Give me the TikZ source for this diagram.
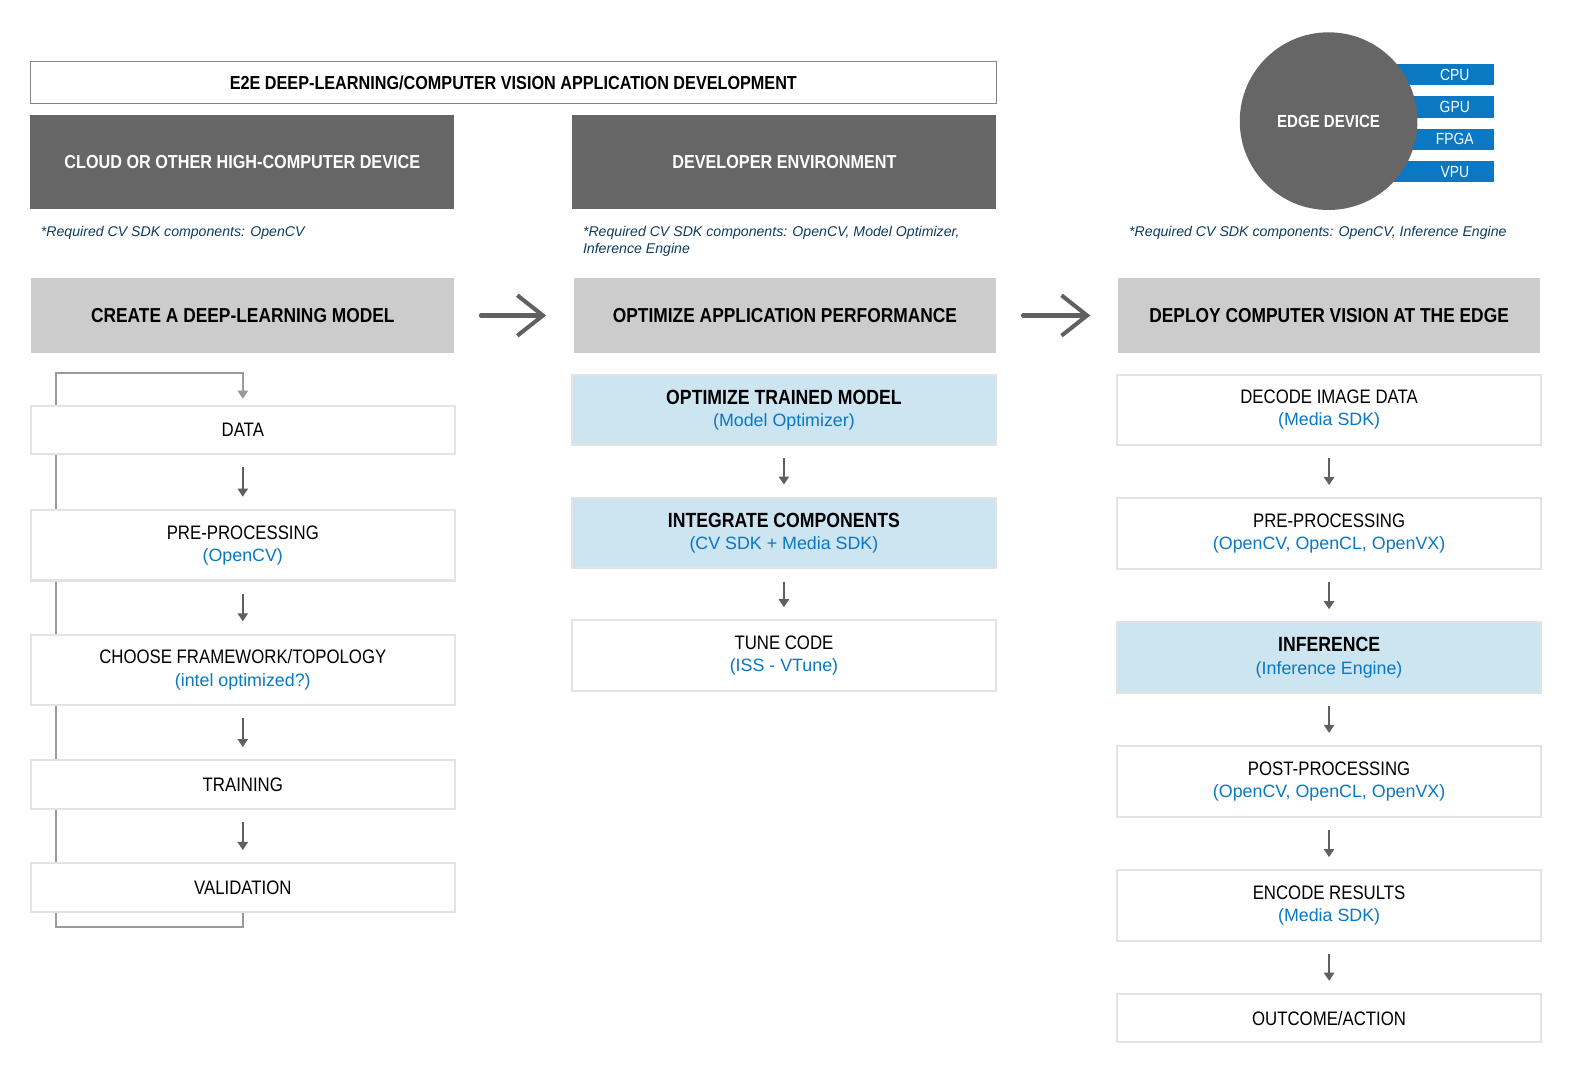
\documentclass[tikz,border=0pt]{standalone}
\usepackage{fontspec}
\setmainfont{Liberation Sans}
\newfontfamily\condfont{Liberation Sans}[FakeStretch=0.86]
\usetikzlibrary{arrows.meta}

\definecolor{darkbox}{HTML}{666666}
\definecolor{hdrgray}{HTML}{CCCCCC}
\definecolor{boxline}{HTML}{E3E3E3}
\definecolor{paleblue}{HTML}{CDE4F1}
\definecolor{subblue}{HTML}{0A78C2}
\definecolor{barblue}{HTML}{0A78C2}
\definecolor{notecol}{HTML}{0D3C61}
\definecolor{arrowgray}{HTML}{606060}
\definecolor{loopgray}{HTML}{9A9A9A}

\tikzset{every picture/.style={line width=0.75pt}}
\tikzset{
  stepbox/.style={draw=boxline, line width=1.5pt, fill=white, minimum width=315pt, minimum height=52.5pt, align=center, inner sep=0pt, font=\condfont\fontsize{14.5}{16.5}\selectfont},
  stepone/.style={stepbox, minimum height=36pt},
  stepblue/.style={stepbox, fill=paleblue},
  hdrbox/.style={fill=hdrgray, minimum width=314pt, minimum height=55.5pt, inner sep=0pt, font=\condfont\bfseries\fontsize{15}{17}\selectfont},
  darkhdr/.style={fill=darkbox, text=white, minimum width=315pt, minimum height=70pt, inner sep=0pt, font=\condfont\bfseries\fontsize{14}{16}\selectfont},
  notetext/.style={anchor=base west, inner sep=0pt, text=notecol, font=\itshape\fontsize{10.5}{12.75}\selectfont, align=left},
  flowarrow/.style={draw=arrowgray, line width=1.5pt, -{Triangle[width=7.5pt,length=6pt]}, shorten <=9pt, shorten >=9pt},
  bigarrow/.style={draw=arrowgray, line width=3pt, line cap=round, -{Straight Barb[length=19pt,width=30pt,line width=3pt]}, shorten <=19.5pt, shorten >=20pt},
  looparrow/.style={draw=loopgray, line width=1.5pt, -{Triangle[width=7.5pt,length=6pt]}},
  bartext/.style={text=white, inner sep=0pt, font=\condfont\fontsize{12}{14}\selectfont}
}
\newcommand{\subtxt}[1]{{\color{subblue}\normalfont\fontsize{13.25}{16.5}\selectfont #1}}
\newcommand{\boldtxt}[1]{{\bfseries\fontsize{15.25}{16.5}\selectfont #1}}

\begin{document}
\begin{tikzpicture}[x=0.75pt,y=0.75pt,yscale=-1,xscale=1]
\useasboundingbox (0,0) rectangle (1568,1064);

% title bar
\node[draw=darkbox!80, line width=0.75pt, minimum width=717.75pt, minimum height=31.5pt, inner sep=0pt, font=\condfont\bfseries\fontsize{14}{16}\selectfont] (title) at (508.5,82) {E2E DEEP-LEARNING/COMPUTER VISION APPLICATION DEVELOPMENT};

% environments
\node[darkhdr] (cloud) at (240,160.5) {CLOUD OR OTHER HIGH-COMPUTER DEVICE};
\node[darkhdr] (devenv) at (777,160.5) {DEVELOPER ENVIRONMENT};

% edge device with its targets
\foreach \lbl [count=\i] in {CPU,GPU,FPGA,VPU}
  \fill[barblue] (1370,{32*\i+31.5}) rectangle (1480,{32*\i+52.5}) node[bartext] (bar-\i) at (1441,{32*\i+42}) {\lbl};
\node[circle, fill=darkbox, text=white, minimum size=132pt, inner sep=0pt, font=\condfont\bfseries\fontsize{13}{15}\selectfont] (edge) at (1316,120) {EDGE DEVICE};

% notes
\node[notetext] (note1) at (40,234) {*Required CV SDK components: OpenCV};
\node[notetext] (note2) at (577,251) {*Required CV SDK components: OpenCV, Model Optimizer,\\Inference Engine};
\node[notetext] (note3) at (1118,234) {*Required CV SDK components: OpenCV, Inference Engine};

% stage headers
\node[hdrbox] (create) at (240.5,312.5) {CREATE A DEEP-LEARNING MODEL};
\node[hdrbox] (optimize) at (777.5,312.5) {OPTIMIZE APPLICATION PERFORMANCE};
\node[hdrbox] (deploy) at (1316.5,312.5) {DEPLOY COMPUTER VISION AT THE EDGE};
\draw[bigarrow] (create) -- (optimize);
\draw[bigarrow] (optimize) -- (deploy);

% training loop
\coordinate (loopcorner) at (55,369);
\draw[looparrow] (240.5,903) -- ++(0,15) -| (loopcorner) -| (240.5,395);

% model column
\node[stepone] (data) at (240.5,426) {DATA};
\node[stepbox] (prep) at (240.5,540) {PRE-PROCESSING\\\subtxt{(OpenCV)}};
\node[stepbox] (frame) at (240.5,663.5) {CHOOSE FRAMEWORK/TOPOLOGY\\\subtxt{(intel optimized?)}};
\node[stepone] (train) at (240.5,777) {TRAINING};
\node[stepone] (valid) at (240.5,879) {VALIDATION};
\draw[flowarrow] (data) -- (prep);
\draw[flowarrow] (prep) -- (frame);
\draw[flowarrow] (frame) -- (train);
\draw[flowarrow] (train) -- (valid);

% optimize column
\node[stepblue] (trained) at (776.5,406) {\boldtxt{OPTIMIZE TRAINED MODEL}\\\subtxt{(Model Optimizer)}};
\node[stepblue] (integ) at (776.5,528) {\boldtxt{INTEGRATE COMPONENTS}\\\subtxt{(CV SDK + Media SDK)}};
\node[stepbox] (tune) at (776.5,649.5) {TUNE CODE\\\subtxt{(ISS - VTune)}};
\draw[flowarrow] (trained) -- (integ);
\draw[flowarrow] (integ) -- (tune);

% deploy column
\node[stepbox] (decode) at (1316.5,406) {DECODE IMAGE DATA\\\subtxt{(Media SDK)}};
\node[stepbox] (prep2) at (1316.5,528.5) {PRE-PROCESSING\\\subtxt{(OpenCV, OpenCL, OpenVX)}};
\node[stepblue] (infer) at (1316.5,651.5) {\boldtxt{INFERENCE}\\\subtxt{(Inference Engine)}};
\node[stepbox] (post) at (1316.5,774) {POST-PROCESSING\\\subtxt{(OpenCV, OpenCL, OpenVX)}};
\node[stepbox] (encode) at (1316.5,897) {ENCODE RESULTS\\\subtxt{(Media SDK)}};
\node[stepone] (outcome) at (1316.5,1008.5) {OUTCOME/ACTION};
\draw[flowarrow] (decode) -- (prep2);
\draw[flowarrow] (prep2) -- (infer);
\draw[flowarrow] (infer) -- (post);
\draw[flowarrow] (post) -- (encode);
\draw[flowarrow] (encode) -- (outcome);

\end{tikzpicture}
\end{document}
